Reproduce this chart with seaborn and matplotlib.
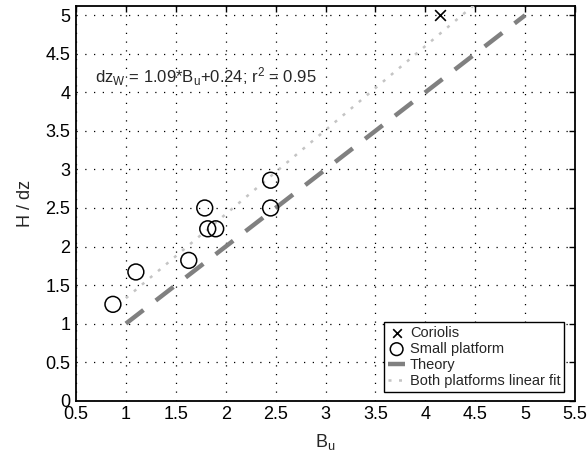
import matplotlib
matplotlib.use("Agg")
import matplotlib.pyplot as plt
import seaborn as sns
import numpy as np
import pandas as pd

# ---- data ----
coriolis_bu = [4.15]
coriolis_h = [5.0]
small_bu = [0.87, 1.10, 1.63, 1.79, 1.82, 1.90, 2.45, 2.45]
small_h = [1.25, 1.67, 1.82, 2.50, 2.23, 2.23, 2.86, 2.50]
theory_bu = [1.0, 5.0]
theory_h = [1.0, 5.0]
fit_slope = 1.09
fit_intercept = 0.24
fit_bu = [1.0, 5.0]
x_ticks = [0.5, 1, 1.5, 2, 2.5, 3, 3.5, 4, 4.5, 5, 5.5]
y_ticks = [0, 0.5, 1, 1.5, 2, 2.5, 3, 3.5, 4, 4.5, 5]
x_tick_labels = ["0.5", "1", "1.5", "2", "2.5", "3", "3.5", "4", "4.5", "5", "5.5"]
y_tick_labels = ["0", "0.5", "1", "1.5", "2", "2.5", "3", "3.5", "4", "4.5", "5"]

sns.set_style("white")
plt.rcParams["font.family"] = ["Liberation Sans", "DejaVu Sans"]
plt.rcParams["mathtext.fontset"] = "custom"
plt.rcParams["mathtext.rm"] = "Liberation Sans"
plt.rcParams["mathtext.it"] = "Liberation Sans"
plt.rcParams["mathtext.default"] = "regular"

fig = plt.figure(figsize=(5.88, 4.63), dpi=100)
ax = fig.add_axes([76 / 588, 1 - 400.7 / 463, (575 - 76) / 588, (400.7 - 6) / 463])

fit_h = [fit_slope * b + fit_intercept for b in fit_bu]
df_fit = pd.DataFrame({"Bu": fit_bu, "H": fit_h})
df_theory = pd.DataFrame({"Bu": theory_bu, "H": theory_h})

sns.scatterplot(x=coriolis_bu, y=coriolis_h, marker="x", color="black", s=60,
                linewidth=1.2, ax=ax, label="Coriolis", zorder=5)
sns.scatterplot(x=small_bu, y=small_h, marker="o", facecolor="none", edgecolor="black",
                s=130, linewidth=1.1, ax=ax, label="Small platform", zorder=5)
sns.lineplot(data=df_theory, x="Bu", y="H", color="#808080", linewidth=3.2,
             linestyle=(0, (5, 3.5)), ax=ax, label="Theory", zorder=4)
sns.lineplot(data=df_fit, x="Bu", y="H", color="#c4c4c4", linewidth=1.8,
             linestyle=(0, (1.2, 3)), ax=ax, label="Both platforms linear fit", zorder=3)

ax.text(0.69, 4.13, r"dz$_{W}$ = 1.09*B$_{u}$+0.24; r$^{2}$ = 0.95", fontsize=12,
        va="baseline", ha="left", zorder=6)

ax.set_xlim(0.5, 5.5)
ax.set_ylim(0, 5.12)
ax.set_xticks(x_ticks)
ax.set_xticklabels(x_tick_labels)
ax.set_yticks(y_ticks)
ax.set_yticklabels(y_tick_labels)
ax.tick_params(direction="in", length=4, width=1, labelsize=13, top=True, right=True,
               colors="black", pad=4)
ax.grid(True, color="black", linestyle=(0, (1, 6)), linewidth=0.9)
for s in ax.spines.values():
    s.set_color("black")
    s.set_linewidth(1.3)

ax.set_xlabel(r"B$_{u}$", fontsize=13, labelpad=6)
ax.set_ylabel("H / dz", fontsize=13, labelpad=8)

leg = ax.legend(loc="lower right", bbox_to_anchor=(0.978, 0.022), fontsize=10.5,
                frameon=True, fancybox=False, edgecolor="black", framealpha=1,
                handlelength=1.2, handletextpad=0.3, borderpad=0.25, labelspacing=0.15,
                borderaxespad=0, markerscale=0.8)
leg.get_frame().set_linewidth(1.0)

fig.savefig("out.png", dpi=100)
